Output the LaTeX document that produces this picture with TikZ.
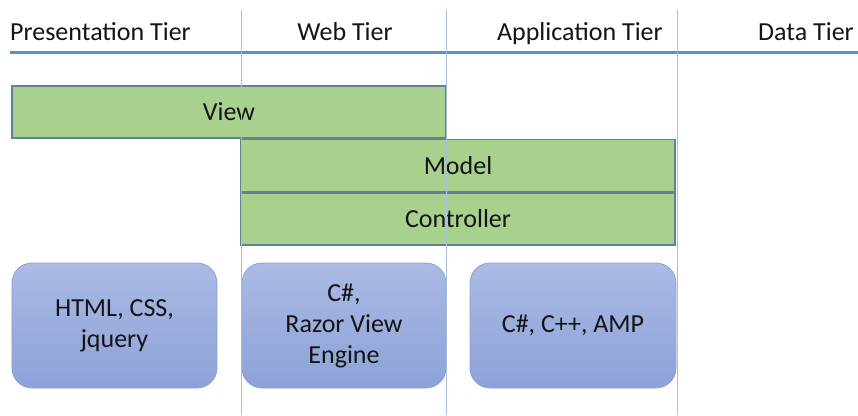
\documentclass[tikz,border=0pt]{standalone}
\usepackage{fontspec}
\setmainfont{Carlito}
\definecolor{gfill}{RGB}{169,209,142}
\definecolor{gborder}{RGB}{100,128,150}
\definecolor{btop}{RGB}{172,186,228}
\definecolor{bbot}{RGB}{140,162,216}
\definecolor{bborder}{RGB}{140,162,212}
\definecolor{hline}{RGB}{91,143,201}
\definecolor{vline}{RGB}{165,192,226}
\newcommand{\lowtext}[1]{\raisebox{-2.5bp}{#1}}
\begin{document}
\begin{tikzpicture}[x=1bp,y=-1bp,
  txt/.style={font=\fontsize{26bp}{31bp}\selectfont, text=black!92},
  tier/.style={txt, inner sep=0},
  greenbox/.style={txt, draw=gborder, fill=gfill, line width=1.2bp, minimum height=52bp, inner sep=0},
  techbox/.style={txt, rounded corners=20bp, draw=bborder, top color=btop, bottom color=bbot, line width=0.8bp, align=center, minimum height=125bp, inner sep=0},
  sepline/.style={draw=vline, line width=1bp},
  tierline/.style={draw=hline, line width=3bp}]
\useasboundingbox (0,0) rectangle (858,415);
% titles
\node[tier, anchor=base west] (pt) at (10,40) {Presentation Tier};
\node[tier, anchor=base] (wt) at (345,40) {Web Tier};
\node[tier, anchor=base east] (at) at (663,40) {Application Tier};
\node[tier, anchor=base east] (dt) at (854,40) {Data Tier};
\coordinate (hl1) at (10,52);
\coordinate (hl2) at (858,52);
\draw[tierline] (hl1) -- (hl2);
% green boxes
\node[greenbox, minimum width=434bp] (view) at (229,112) {\lowtext{View}};
\node[greenbox, minimum width=434bp] (model) at (458,165.5) {\lowtext{Model}};
\node[greenbox, minimum width=434bp] (ctrl) at (458,219) {\lowtext{Controller}};
% tech boxes
\node[techbox, minimum width=205bp] (pres) at (114.5,325.5) {HTML, CSS,\\jquery};
\node[techbox, minimum width=204bp] (web) at (344,325.5) {C\#,\\Razor View\\Engine};
\node[techbox, minimum width=206bp] (app) at (573,325.5) {C\#, C++, AMP};
% separators
\foreach \x/\n in {241/a,446/b,677/c}{
  \coordinate (s\n1) at (\x,10);
  \coordinate (s\n2) at (\x,415);
  \draw[sepline] (s\n1) -- (s\n2);
}
\end{tikzpicture}
\end{document}
